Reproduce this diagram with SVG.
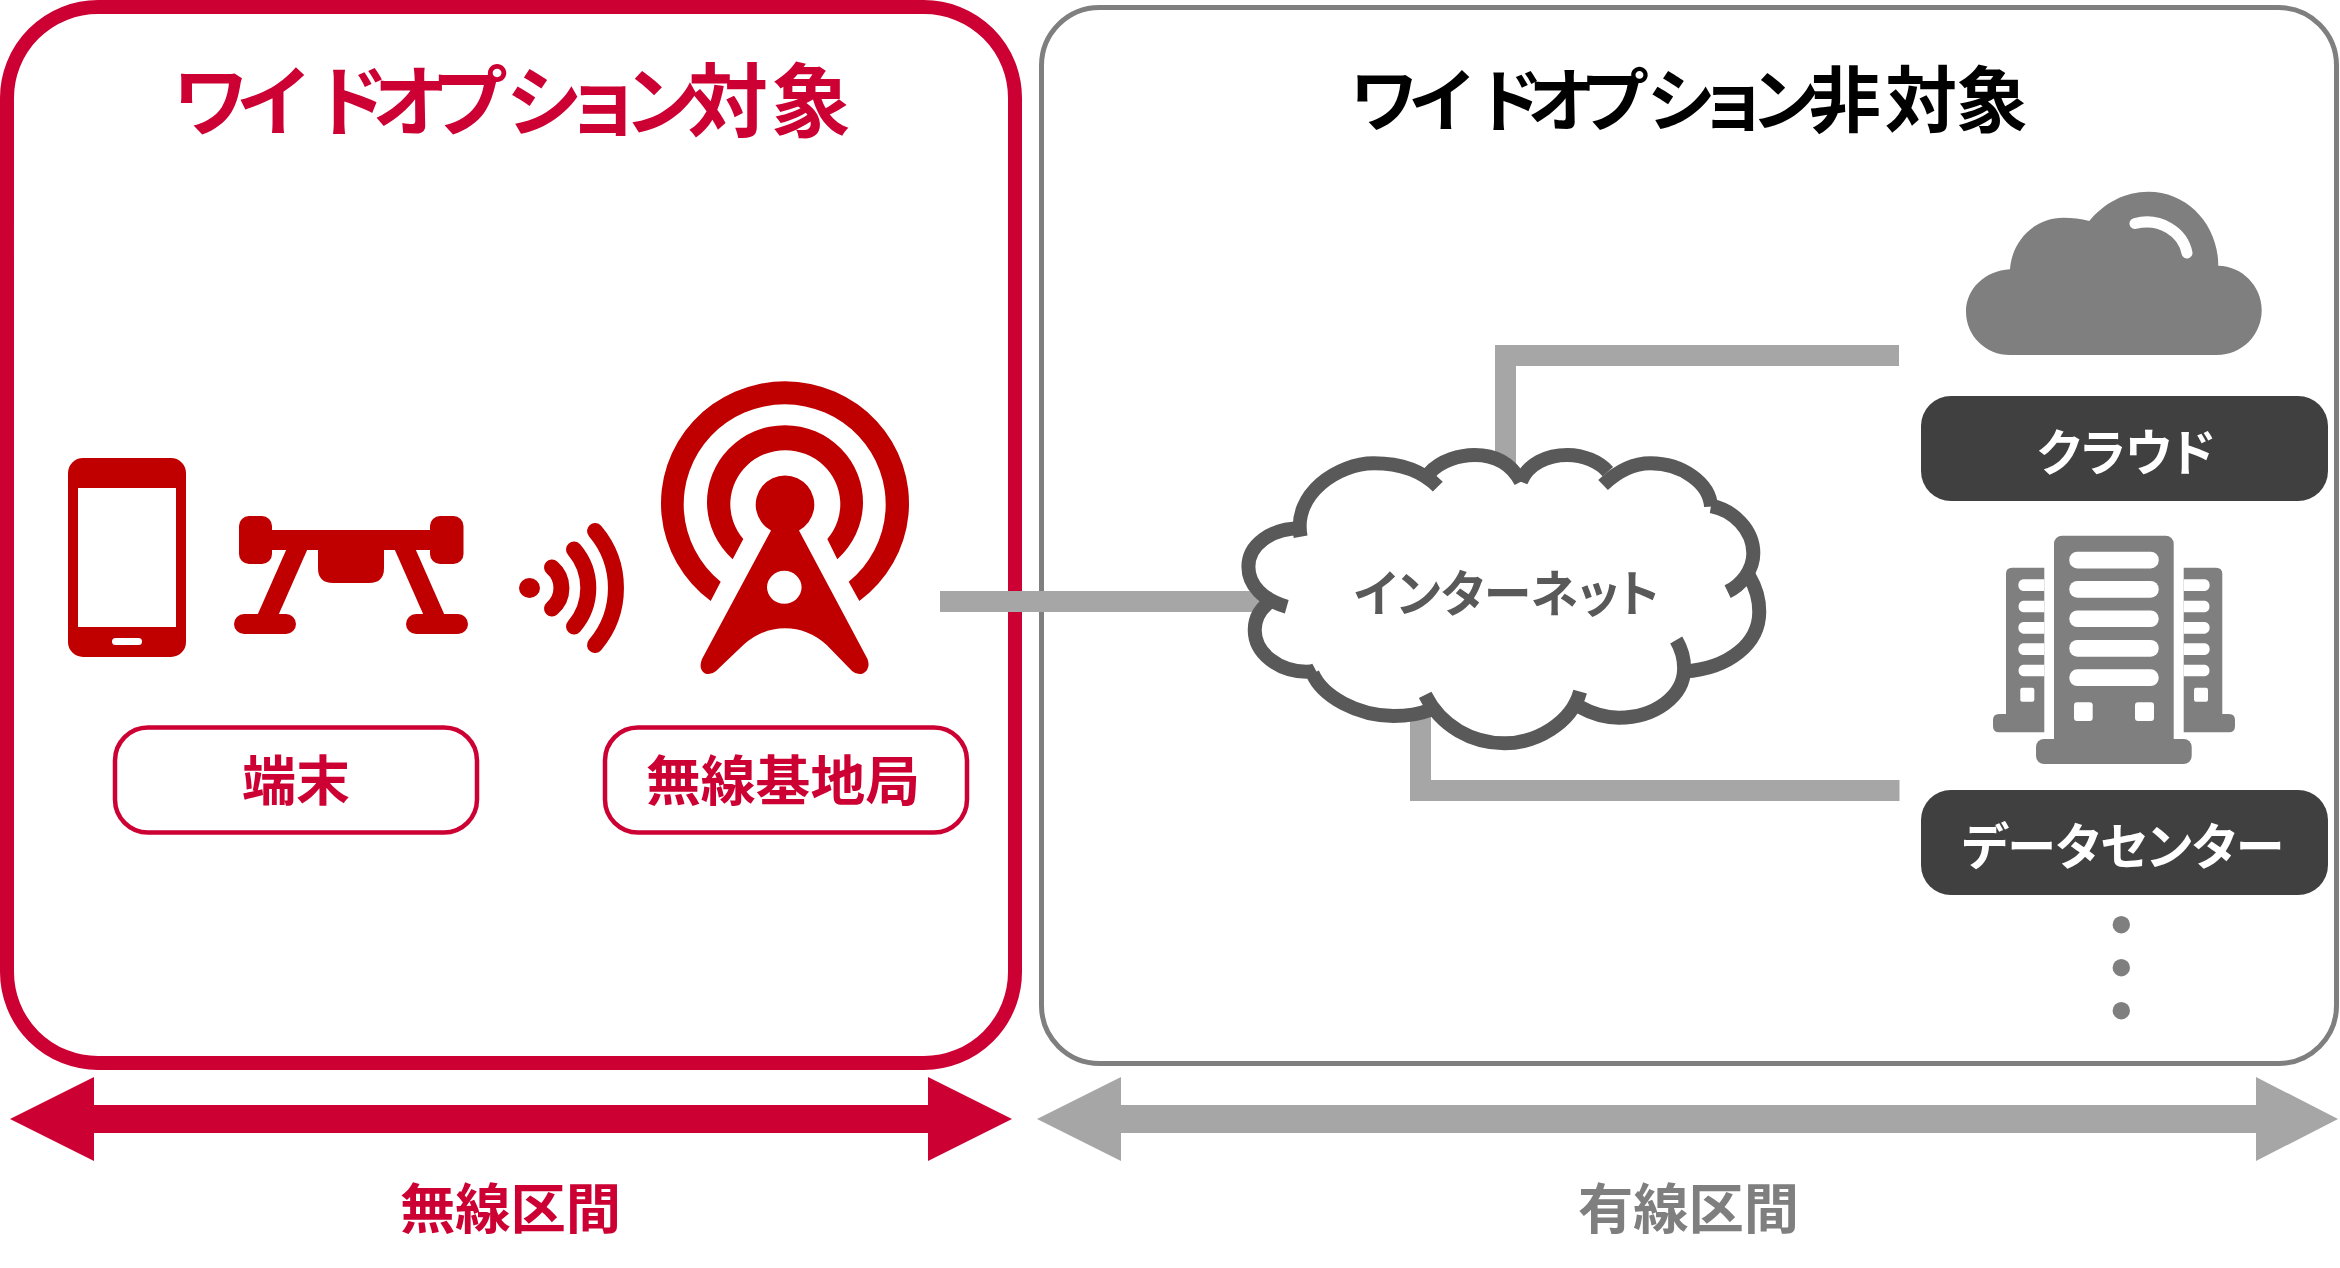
<svg xmlns="http://www.w3.org/2000/svg" width="2340" height="1268" viewBox="0 0 2340 1268">
<style>
text{font-family:"Noto Sans CJK JP","Noto Sans",sans-serif;font-weight:700;font-feature-settings:"palt"}
.red{fill:#CC0033}.ic{fill:#C00000}.gr{fill:#7F7F7F}.con{fill:#A6A6A6}.wh{fill:#fff}
.lab{fill:#fff;stroke:#CC0033;stroke-width:4.5}
.dark{fill:#404040}
.sig{fill:none;stroke:#C00000;stroke-width:16;stroke-linecap:round}
.cl{fill:none;stroke:#595959;stroke-width:14;vector-effect:non-scaling-stroke}
</style>
<rect width="2340" height="1268" fill="#fff"/>
<g id="zone-wireless">
<rect x="7" y="7" width="1008" height="1056" rx="91" fill="#fff" stroke="#CC0033" stroke-width="14"/>
<text class="red" y="130" font-size="80"><tspan font-size="77" x="174 238 318 373 433 507 572 627">ワイドオプション</tspan><tspan x="688 771">対象</tspan></text>
</g>
<g id="zone-wired">
<rect x="1041.5" y="7.5" width="1295" height="1056" rx="58" fill="#fff" stroke="#7F7F7F" stroke-width="5"/>
<text y="126" font-size="72" fill="#000"><tspan font-size="69" x="1351 1410 1480 1528 1582 1648 1705 1754">ワイドオプション</tspan><tspan x="1809 1885 1956">非対象</tspan></text>
</g>
<g id="connectors">
<rect class="con" x="940" y="591" width="330" height="21"/>
<path class="con" d="M1495 560V345H1899V366H1516V560Z"/>
<path class="con" d="M1410 680V801H1899.500V780H1431V680Z"/>
</g>
<g id="terminal-phone">
<rect class="ic" x="68" y="458" width="118" height="199" rx="15"/>
<rect class="wh" x="78" y="488" width="98" height="139"/>
<rect class="wh" x="112" y="638" width="30" height="7" rx="3.500"/>
</g>
<g id="terminal-drone" class="ic">
<rect x="239" y="516" width="33" height="48" rx="10"/>
<rect x="430" y="516" width="33.500" height="48" rx="10"/>
<rect x="270" y="530" width="162" height="20"/>
<path d="M318 548H384V568Q384 583 369 583H333Q318 583 318 568Z"/>
<path d="M287 548H308L278 616H257Z"/>
<path d="M394 548H415L445 616H424Z"/>
<rect x="234" y="614" width="62" height="20" rx="10"/>
<rect x="406" y="614" width="62" height="20" rx="10"/>
</g>
<g id="signal">
<ellipse class="ic" cx="529.500" cy="588" rx="10.500" ry="10"/>
<path class="sig" d="M552 567.500A27 27 0 0 1 552 608.500"/>
<path class="sig" d="M574 549.500A59 59 0 0 1 574 626.500"/>
<path class="sig" d="M595 531A88 88 0 0 1 595 645"/>
</g>
<g id="base-station">
<path class="ic" d="M710.700 601A124 122 0 1 1 859.300 601L848.700 581.700A101 100 0 1 0 720.700 581.700Z"/>
<path class="ic" d="M732.700 559.300A78 77 0 1 1 837.300 559.300L827.300 539A55 54 0 1 0 743.300 539Z"/>
<path class="ic" fill-rule="evenodd" d="M771 530.500A29.300 29.300 0 1 1 799 530.500L867.500 659Q871 669 863 673.500Q857 675.500 852 671L826.700 645Q808 628.300 785 628.300Q762 628.300 743.300 645L716 671Q711 675.500 705 673.500Q698 669 702 659ZM784.300 570.800A17.300 16.500 0 1 0 784.301 603.800A17.300 16.500 0 1 0 784.300 570.800Z"/>
</g>
<g id="label-terminal">
<rect class="lab" x="115" y="727.500" width="362" height="105" rx="33"/>
<text class="red" x="296" y="801" font-size="54" text-anchor="middle">端末</text>
</g>
<g id="label-base-station">
<rect class="lab" x="605" y="727.500" width="362" height="105" rx="33"/>
<text class="red" x="646" y="801" font-size="54" textLength="274" lengthAdjust="spacingAndGlyphs">無線基地局</text>
</g>
<g id="internet">
<g transform="translate(1180 420) scale(.3954 .3333)">
<path fill="#fff" d="M305 340C285 220 400 130 490 130C550 130 600 145 630 160C660 120 710 105 745 105C790 105 835 125 870 150C890 125 930 105 980 105C1020 105 1060 125 1085 150C1110 140 1150 130 1190 130C1270 130 1340 190 1343 258C1400 270 1450 330 1450 400C1450 430 1445 450 1435 470C1455 510 1465 545 1465 575C1465 670 1390 745 1275 755C1265 830 1200 893 1110 893C1070 893 1040 880 1010 865C980 930 900 970 820 970C740 970 670 930 630 875C600 885 570 888 540 888C450 888 360 830 335 755C250 755 189 700 189 630C189 590 205 560 220 540C190 510 173 480 173 440C173 375 230 325 290 325Z"/>
<path class="cl" d="M305 350C285 220 400 130 490 130C550 130 610 150 652 200"/>
<path class="cl" d="M630 160C660 120 710 105 745 105C790 105 835 125 862 185"/>
<path class="cl" d="M862 185C880 130 930 105 980 105C1020 105 1060 125 1082 155"/>
<path class="cl" d="M1070 195C1110 150 1150 130 1190 130C1270 130 1340 190 1343 260"/>
<path class="cl" d="M1343 258C1400 270 1450 330 1450 400C1450 450 1420 495 1385 515"/>
<path class="cl" d="M1440 470C1460 510 1465 545 1465 575C1465 670 1390 745 1275 755"/>
<path class="cl" d="M1255 660C1275 700 1275 730 1275 745C1275 830 1200 893 1110 893C1070 893 1040 880 1010 860"/>
<path class="cl" d="M1012 815C990 910 900 970 820 970C740 970 660 920 620 825"/>
<path class="cl" d="M632 870C600 885 570 888 540 888C450 888 360 830 335 760"/>
<path class="cl" d="M343 750C335 755 325 755 320 755C250 755 189 700 189 630C189 590 205 560 240 535"/>
<path class="cl" d="M305 325C230 325 173 375 173 440C173 495 210 540 270 560"/>
</g>
<text x="1354" y="612" font-size="50" textLength="305" lengthAdjust="spacingAndGlyphs" fill="#595959">インターネット</text>
</g>
<g id="cloud">
<path class="gr" d="M2010 355H2217C2242 355 2261.700 335 2261.700 310C2261.700 286 2242 266 2218.300 265.700C2218.300 225 2188 191.700 2148.300 191.700C2125 191.700 2104 203 2089.300 221C2081 218.500 2072 217.700 2063.300 217.700C2035 217.700 2012 240 2010 269.300C1985 270.500 1966 289 1966 311.700C1966 336 1986 355 2010 355Z"/>
<path d="M2135 223.500C2160 217 2183 232 2187 253" fill="none" stroke="#fff" stroke-width="11" stroke-linecap="round"/>
<rect class="dark" x="1921" y="396" width="407" height="105" rx="30"/>
<text class="wh" x="2037" y="471" font-size="50" textLength="178" lengthAdjust="spacingAndGlyphs">クラウド</text>
</g>
<g id="data-center">
<rect class="gr" x="2054" y="535.700" width="119.700" height="215" rx="8"/>
<rect class="gr" x="2036" y="739" width="155.700" height="25" rx="8"/>
<path class="gr" d="M2044.300 567.700H2012Q2006 567.700 2006 573.700V714H1999Q1993 714 1993 720V726Q1993 732.300 1999 732.300H2044.300Z"/>
<path class="gr" d="M2183.700 567.700H2216Q2222.300 567.700 2222.300 573.700V714H2229Q2235 714 2235 720V726Q2235 732.300 2229 732.300H2183.700Z"/>
<g class="wh">
<rect x="2069.300" y="551.700" width="89.400" height="16.700" rx="8"/>
<rect x="2069.300" y="581" width="89.400" height="16.700" rx="8"/>
<rect x="2069.300" y="610.400" width="89.400" height="16.700" rx="8"/>
<rect x="2069.300" y="640" width="89.400" height="16.700" rx="8"/>
<rect x="2069.300" y="669.300" width="89.400" height="16.700" rx="8"/>
<rect x="2074" y="702.300" width="18.700" height="18.700" rx="3"/>
<rect x="2135" y="702.300" width="19" height="18.700" rx="3"/>
<path d="M2044.300 579.300H2023A6 6 0 0 0 2023 591H2044.300ZM2044.300 600.700H2023A6 6 0 0 0 2023 612.300H2044.300ZM2044.300 622H2023A6 6 0 0 0 2023 633.700H2044.300ZM2044.300 643.300H2023A6 6 0 0 0 2023 655H2044.300ZM2044.300 664.700H2023A6 6 0 0 0 2023 676.300H2044.300Z"/>
<path d="M2183.700 579.300H2205A6 6 0 0 1 2205 591H2183.700ZM2183.700 600.700H2205A6 6 0 0 1 2205 612.300H2183.700ZM2183.700 622H2205A6 6 0 0 1 2205 633.700H2183.700ZM2183.700 643.300H2205A6 6 0 0 1 2205 655H2183.700ZM2183.700 664.700H2205A6 6 0 0 1 2205 676.300H2183.700Z"/>
<rect x="2020.300" y="687.700" width="14" height="14" rx="2"/>
<rect x="2194" y="687.700" width="14" height="14" rx="2"/>
</g>
<rect class="dark" x="1921" y="790" width="407" height="105" rx="30"/>
<text class="wh" x="1962" y="865" font-size="50" textLength="322" lengthAdjust="spacingAndGlyphs">データセンター</text>
</g>
<g id="more" class="gr">
<circle cx="2121.300" cy="924.700" r="8.700"/>
<circle cx="2121.300" cy="967.700" r="8.700"/>
<circle cx="2121.300" cy="1010.700" r="8.700"/>
</g>
<g id="span-wireless">
<polygon class="red" points="10,1119 94,1077 94,1105 928,1105 928,1077 1012,1119 928,1161 928,1133 94,1133 94,1161"/>
<text class="red" x="400" y="1229" font-size="54" textLength="221" lengthAdjust="spacingAndGlyphs">無線区間</text>
</g>
<g id="span-wired">
<polygon class="con" points="1037,1119 1121,1077 1121,1105 2256,1105 2256,1077 2338,1119 2256,1161 2256,1133 1121,1133 1121,1161"/>
<text class="gr" x="1578" y="1229" font-size="54" textLength="221" lengthAdjust="spacingAndGlyphs">有線区間</text>
</g>
</svg>
